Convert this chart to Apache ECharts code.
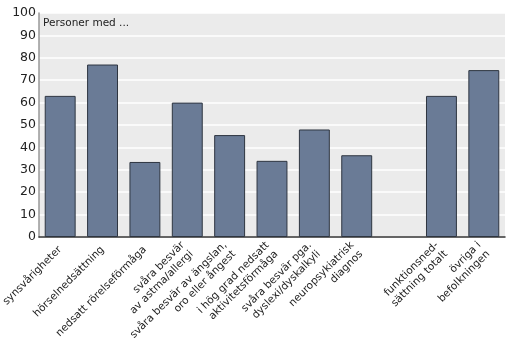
<!DOCTYPE html>
<html><head><meta charset="utf-8">
<script src="https://cdn.jsdelivr.net/npm/echarts@6/dist/echarts.min.js"></script>
<style>html,body{margin:0;padding:0;background:#fff}#c{width:509px;height:354px}</style>
</head><body><div id="c"></div>
<script>
const categories = ['synsvårigheter','hörselnedsättning','nedsatt rörelseförmåga','svåra besvär\nav astma/allergi','svåra besvär av ängslan,\noro eller ångest','i hög grad nedsatt\naktivitetsförmåga','svåra besvär pga.\ndyslexi/dyskalkyli','neuropsykiatrisk\ndiagnos','','funktionsned-\nsättning totalt','övriga i\nbefolkningen'];
const values = [63, 77, 33.5, 60, 45.5, 34, 48, 36.5, null, 63, 74.5];
const yTicks = [0,10,20,30,40,50,60,70,80,90,100];
const subtitle = 'Personer med ...';

const chart = echarts.init(document.getElementById('c'), null, {renderer:'canvas'});
chart.setOption({
  animation:false,
  backgroundColor:'#ffffff',
  textStyle:{fontFamily:'DejaVu Sans'},
  graphic:[{type:'text', left:43, top:18, style:{text:subtitle, font:'10.5px "DejaVu Sans"', fill:'#222'}}],
  grid:{left:39, right:4, top:13, bottom:117, show:true, backgroundColor:'#ebebeb', borderWidth:0, containLabel:false, outerBoundsMode:'none'},
  xAxis:{type:'category', data:categories,
    axisLine:{lineStyle:{color:'#333', width:1.5}}, axisTick:{show:false},
    axisLabel:{interval:0, rotate:45, fontSize:10.5, color:'#222', margin:11, padding:[10,0,0,0], lineHeight:12.5, fontFamily:'DejaVu Sans'}},
  yAxis:{type:'value', min:0, max:100, interval:10,
    axisLine:{show:true, lineStyle:{color:'#999', width:1.5}}, axisTick:{show:false},
    splitLine:{lineStyle:{color:'#ffffff', width:1.5}},
    axisLabel:{fontSize:12.5, color:'#222', margin:3, padding:[6,0,0,0], fontFamily:'DejaVu Sans',
      formatter:function(v){return yTicks.indexOf(v)>=0?String(v):'';}}},
  series:[{type:'bar', data:values, barCategoryGap:'27%',
    itemStyle:{color:'#6a7b96', borderColor:'#2e3540', borderWidth:1}}]
});
</script></body></html>
